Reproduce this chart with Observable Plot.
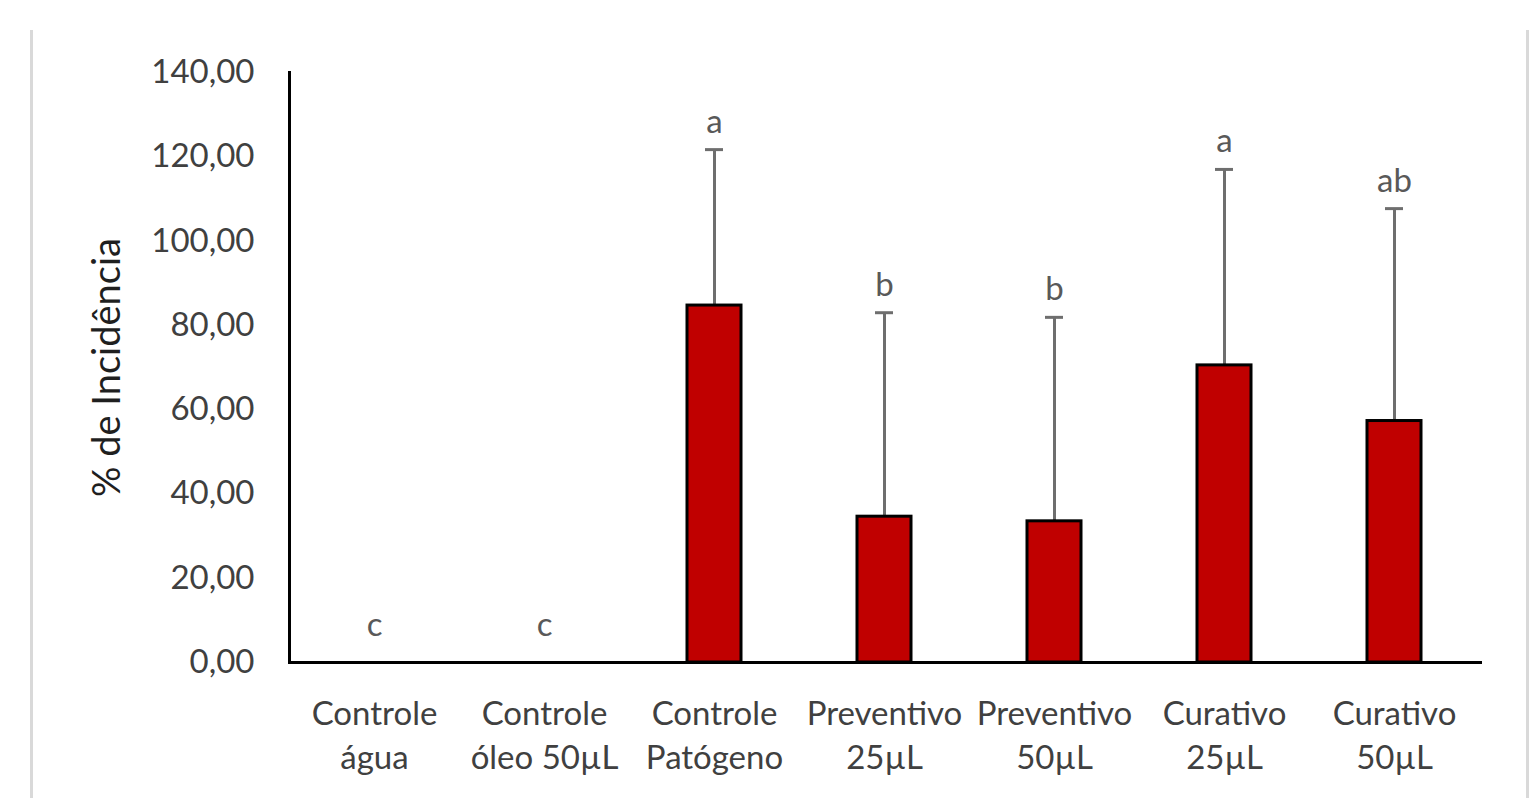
<!DOCTYPE html>
<html>
<head>
<meta charset="utf-8">
<script src="https://cdn.jsdelivr.net/npm/d3@7"></script>
<script src="https://cdn.jsdelivr.net/npm/@observablehq/plot@0.6"></script>
<style>
  html, body { margin: 0; padding: 0; background: #fff; }
  #wrap { position: relative; width: 1533px; height: 798px; overflow: hidden; }
  .border { position: absolute; top: 30px; bottom: 0; width: 3px; background: #d9d9d9; }
</style>
</head>
<body>
<div id="wrap">
  <div class="border" style="left:30px"></div>
  <div class="border" style="left:1526px"></div>
  <div id="chart"></div>
</div>
<script>
const categories = ["Controle\nágua", "Controle\nóleo 50µL", "Controle\nPatógeno", "Preventivo\n25µL", "Preventivo\n50µL", "Curativo\n25µL", "Curativo\n50µL"];
const means = [0, 0, 84.7, 34.6, 33.5, 70.5, 57.3];
const errors = [0, 0, 37.0, 48.4, 48.4, 46.5, 50.4];
const letters = ["c", "c", "a", "b", "b", "a", "ab"];
const yTicks = [0, 20, 40, 60, 80, 100, 120, 140];

const data = categories.map((c, i) => ({cat: c, mean: means[i], top: means[i] + errors[i], err: errors[i], letter: letters[i]}));
const withErr = data.filter(d => d.err > 0);
const noErr = data.filter(d => d.err === 0);

const font = "Lato, 'Open Sans', sans-serif";

const chart = Plot.plot({
  width: 1533,
  height: 798,
  marginLeft: 289,
  marginRight: 53,
  marginTop: 72,
  marginBottom: 136,
  style: {fontFamily: font, fontSize: "33px", color: "#404040", background: "transparent"},
  x: {domain: categories, paddingInner: 0.68, paddingOuter: 0.34, label: null},
  y: {domain: [0, 140], label: null},
  marks: [
    Plot.axisY({ticks: yTicks, tickSize: 0, tickPadding: 35, tickFormat: d => d.toFixed(2).replace(".", ","), fontSize: 33, fill: "#404040", label: null}),
    Plot.axisY({ticks: [], tickSize: 0, label: "% de Incidência", labelAnchor: "center", labelOffset: 196, labelArrow: "none", fontSize: 38, fill: "#1f1f1f"}),
    Plot.axisX({tickSize: 0, tickPadding: 31, fontSize: 33, fill: "#404040", lineHeight: 1.33, label: null}),
    Plot.ruleX(withErr, {x: "cat", y1: "mean", y2: "top", stroke: "#6e6e6e", strokeWidth: 3}),
    Plot.tickY(withErr, {x: "cat", y: "top", stroke: "#6e6e6e", strokeWidth: 3, insetLeft: 18, insetRight: 18}),
    Plot.barY(data.filter(d => d.mean > 0), {x: "cat", y: "mean", fill: "#c00000", stroke: "#000", strokeWidth: 3}),
    Plot.text(withErr, {x: "cat", y: "top", text: "letter", dy: -17, fill: "#595959", fontSize: 33, lineAnchor: "bottom"}),
    Plot.text(noErr, {x: "cat", y: "top", text: "letter", dy: -27, fill: "#595959", fontSize: 33, lineAnchor: "bottom"}),
    Plot.frame({anchor: "left", stroke: "#000", strokeWidth: 3}),
    Plot.frame({anchor: "bottom", stroke: "#000", strokeWidth: 3})
  ]
});
document.getElementById("chart").appendChild(chart);
</script>
</body>
</html>
